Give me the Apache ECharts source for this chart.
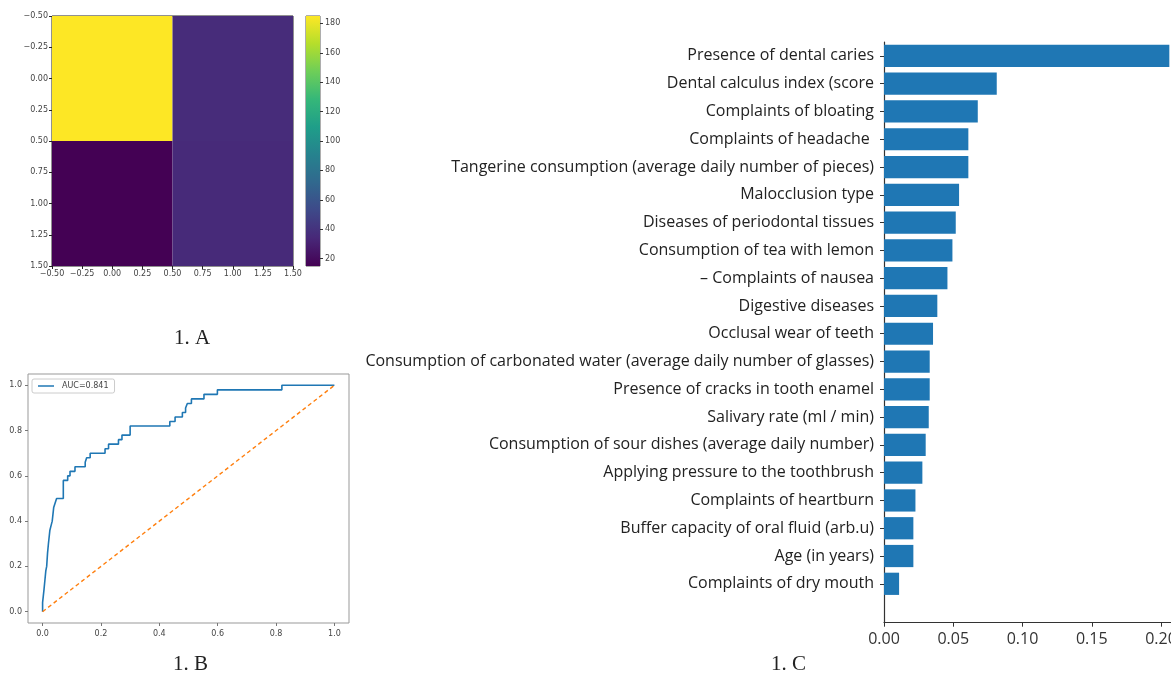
<!DOCTYPE html>
<html>
<head>
<meta charset="utf-8">
<script src="https://cdn.jsdelivr.net/npm/echarts@6/dist/echarts.min.js"></script>
<style>html,body{margin:0;padding:0;background:#fff;}#c{width:1171px;height:679px;}</style>
</head>
<body>
<div id="c"></div>
<script>
// ---------- Panel 1.A : confusion-matrix image ----------
const cmCells = [ // [col, row, value]
  [0, 0, 185], [1, 0, 36],
  [0, 1, 15],  [1, 1, 35]
];
const cbTicks = [20, 40, 60, 80, 100, 120, 140, 160, 180];
const viridis = ['#440154','#482878','#3e4989','#31688e','#26828e','#1f9e89','#35b779','#6ece58','#b5de2b','#fde725'];

// ---------- Panel 1.B : ROC curve ----------
const rocFpr = [0,0,0.005,0.005,0.008,0.008,0.011,0.011,0.014,0.014,0.017,0.017,0.02,0.02,0.025,0.025,0.029,0.029,0.033,0.033,0.038,0.038,0.043,0.043,0.048,0.048,0.071,0.071,0.086,0.086,0.094,0.094,0.111,0.111,0.146,0.146,0.151,0.151,0.163,0.163,0.214,0.214,0.226,0.226,0.26,0.26,0.272,0.272,0.30,0.30,0.436,0.436,0.454,0.454,0.479,0.479,0.49,0.49,0.496,0.496,0.51,0.51,0.553,0.553,0.599,0.599,0.82,0.82,1.0];
const rocTpr = [0,0.04,0.04,0.10,0.10,0.14,0.14,0.18,0.18,0.20,0.20,0.26,0.26,0.30,0.30,0.36,0.36,0.38,0.38,0.40,0.40,0.46,0.46,0.48,0.48,0.50,0.50,0.58,0.58,0.60,0.60,0.62,0.62,0.64,0.64,0.66,0.66,0.68,0.68,0.70,0.70,0.72,0.72,0.74,0.74,0.76,0.76,0.78,0.78,0.82,0.82,0.84,0.84,0.86,0.86,0.88,0.88,0.90,0.90,0.92,0.92,0.94,0.94,0.96,0.96,0.98,0.98,1.0,1.0];
const chanceFpr = [0, 1];
const chanceTpr = [0, 1];
const rocTicks = [0, 0.2, 0.4, 0.6, 0.8, 1.0];
const aucLabel = 'AUC=0.841';

// ---------- Panel 1.C : feature importances ----------
const features = [
  'Presence of dental caries',
  'Dental calculus index (score',
  'Complaints of bloating',
  'Complaints of headache ',
  'Tangerine consumption (average daily number of pieces)',
  'Malocclusion type',
  'Diseases of periodontal tissues',
  'Consumption of tea with lemon',
  '– Complaints of nausea',
  'Digestive diseases',
  'Occlusal wear of teeth',
  'Consumption of carbonated water (average daily number of glasses)',
  'Presence of cracks in tooth enamel',
  'Salivary rate (ml / min)',
  'Consumption of sour dishes (average daily number)',
  'Applying pressure to the toothbrush',
  'Complaints of heartburn',
  'Buffer capacity of oral fluid (arb.u)',
  'Age (in years)',
  'Complaints of dry mouth'
];
const importances = [0.206,0.0814,0.0677,0.0609,0.0609,0.0542,0.0518,0.0494,0.0458,0.0385,0.0354,0.0330,0.0330,0.0323,0.0301,0.0277,0.0227,0.0212,0.0212,0.0109];
const impTicks = [0, 0.05, 0.10, 0.15, 0.20];
const captions = ['1. A', '1. B', '1. C'];

// ---------- build ----------
const vMin = Math.min(...cmCells.map(c => c[2]));
const vMax = Math.max(...cmCells.map(c => c[2]));
const minus = s => s.replace('-', '\u2212');
const smallLbl = {fontFamily: 'DejaVu Sans', fontSize: 8, color: '#444'};
const featIdx = features.map((_, i) => i);
const blue = '#1f77b4';

const chart = echarts.init(document.getElementById('c'), null, {renderer: 'canvas'});
chart.setOption({
  backgroundColor: '#fff',
  animation: false,
  grid: [
    {left: 52, top: 16, width: 241, height: 250, show: true, borderColor: '#222', borderWidth: 1, backgroundColor: 'transparent', outerBoundsMode: 'none', containLabel: false},
    {left: 306, top: 16, width: 14, height: 250, show: true, borderColor: '#333', borderWidth: 0.8, backgroundColor: 'transparent', outerBoundsMode: 'none', containLabel: false},
    {left: 28, top: 374, width: 321, height: 249, show: true, borderColor: '#999', borderWidth: 1, backgroundColor: 'transparent', outerBoundsMode: 'none', containLabel: false},
    {left: 884, top: 42, width: 287, height: 580.7, show: false, outerBoundsMode: 'none', containLabel: false}
  ],
  xAxis: [
    {gridIndex: 0, type: 'value', min: -0.5, max: 1.5, interval: 0.25, position: 'bottom',
     axisLine: {show: false, onZero: false}, splitLine: {show: false},
     axisTick: {show: true, length: 3, lineStyle: {color: '#222'}},
     axisLabel: {...smallLbl, margin: 4, formatter: v => minus(v.toFixed(2))}},
    {gridIndex: 1, type: 'value', min: 0, max: 1, show: false},
    {gridIndex: 2, type: 'value', min: -0.05, max: 1.05, position: 'bottom',
     axisLine: {show: false, onZero: false}, splitLine: {show: false},
     axisTick: {show: true, length: 3, customValues: rocTicks, lineStyle: {color: '#777'}},
     axisLabel: {...smallLbl, margin: 7, customValues: rocTicks, formatter: v => v.toFixed(1)}},
    {gridIndex: 3, type: 'value', min: 0, max: 0.2072, interval: 0.05, position: 'bottom',
     axisLine: {show: true, onZero: false, lineStyle: {color: '#333', width: 1.2}},
     splitLine: {show: false},
     axisTick: {show: true, length: 4, customValues: impTicks, lineStyle: {color: '#333'}},
     axisLabel: {fontFamily: 'Open Sans', fontSize: 16, color: '#333', margin: 9, customValues: impTicks, formatter: v => v.toFixed(2)}}
  ],
  yAxis: [
    {gridIndex: 0, type: 'value', inverse: true, min: -0.5, max: 1.5, interval: 0.25, position: 'left',
     axisLine: {show: false, onZero: false}, splitLine: {show: false},
     axisTick: {show: true, length: 3, lineStyle: {color: '#222'}},
     axisLabel: {...smallLbl, margin: 4, formatter: v => minus(v.toFixed(2))}},
    {gridIndex: 1, type: 'value', position: 'right', min: vMin, max: vMax,
     axisLine: {show: false, onZero: false}, splitLine: {show: false},
     axisTick: {show: true, length: 3, customValues: cbTicks, lineStyle: {color: '#333'}},
     axisLabel: {...smallLbl, margin: 5, customValues: cbTicks}},
    {gridIndex: 2, type: 'value', min: -0.05, max: 1.05, position: 'left',
     axisLine: {show: false, onZero: false}, splitLine: {show: false},
     axisTick: {show: true, length: 3, customValues: rocTicks, lineStyle: {color: '#777'}},
     axisLabel: {...smallLbl, margin: 6, customValues: rocTicks, formatter: v => v.toFixed(1)}},
    {gridIndex: 3, type: 'value', inverse: true, min: -0.5, max: 20.4, position: 'left',
     axisLine: {show: true, onZero: false, lineStyle: {color: '#333', width: 1.2}},
     splitLine: {show: false},
     axisTick: {show: true, length: 4, customValues: featIdx, lineStyle: {color: '#333'}},
     axisLabel: {fontFamily: 'Open Sans', fontSize: 16, color: '#222', margin: 10, customValues: featIdx,
                 formatter: v => features[Math.round(v)] || ''}}
  ],
  visualMap: [{
    type: 'continuous', show: false, seriesIndex: 0, dimension: 2,
    min: vMin, max: vMax, inRange: {color: viridis}
  }],
  legend: {
    data: [{name: aucLabel, icon: 'rect'}], left: 32, top: 379, padding: [3, 6], itemGap: 4,
    itemWidth: 16, itemHeight: 1.5, borderColor: '#ccc', borderWidth: 1, borderRadius: 2,
    textStyle: {fontFamily: 'DejaVu Sans', fontSize: 8, color: '#444', padding: [0, 0, 0, 3]}
  },
  series: [
    {type: 'custom', xAxisIndex: 0, yAxisIndex: 0, data: cmCells,
     renderItem: (params, api) => {
       const x = api.value(0), y = api.value(1);
       const p0 = api.coord([x - 0.5, y - 0.5]);
       const p1 = api.coord([x + 0.5, y + 0.5]);
       return {type: 'rect', shape: {x: Math.min(p0[0], p1[0]), y: Math.min(p0[1], p1[1]),
               width: Math.abs(p1[0] - p0[0]), height: Math.abs(p1[1] - p0[1])},
               style: {fill: api.visual('color')}};
     }},
    {type: 'custom', xAxisIndex: 1, yAxisIndex: 1, data: [[0, vMin, vMax]],
     renderItem: (params, api) => {
       const pTop = api.coord([0, api.value(2)]);
       const pBot = api.coord([1, api.value(1)]);
       const stops = viridis.map((c, i) => ({offset: 1 - i / (viridis.length - 1), color: c}));
       stops.reverse();
       return {type: 'rect', shape: {x: pTop[0], y: pTop[1], width: pBot[0] - pTop[0], height: pBot[1] - pTop[1]},
               style: {fill: new echarts.graphic.LinearGradient(0, 0, 0, 1, stops)}};
     }},
    {type: 'line', name: aucLabel, xAxisIndex: 2, yAxisIndex: 2,
     data: rocFpr.map((f, i) => [f, rocTpr[i]]),
     symbol: 'none', lineStyle: {color: blue, width: 1.6}, itemStyle: {color: blue}},
    {type: 'line', name: 'chance', xAxisIndex: 2, yAxisIndex: 2,
     data: chanceFpr.map((f, i) => [f, chanceTpr[i]]),
     symbol: 'none', lineStyle: {color: '#ff7f0e', width: 1.4, type: [4, 3]}, itemStyle: {color: '#ff7f0e'}},
    {type: 'custom', xAxisIndex: 3, yAxisIndex: 3,
     data: importances.map((v, i) => [v, i]),
     renderItem: (params, api) => {
       const v = api.value(0), i = api.value(1);
       const a = api.coord([0, i - 0.4]);
       const b = api.coord([v, i + 0.4]);
       return {type: 'rect', shape: {x: a[0], y: a[1], width: b[0] - a[0], height: b[1] - a[1]},
               style: {fill: blue}};
     }}
  ],
  graphic: [
    {type: 'text', left: 174, top: 328, style: {text: captions[0], font: '21px "Liberation Serif"', fill: '#222'}},
    {type: 'text', left: 173, top: 654, style: {text: captions[1], font: '21px "Liberation Serif"', fill: '#222'}},
    {type: 'text', left: 771, top: 654, style: {text: captions[2], font: '21px "Liberation Serif"', fill: '#222'}}
  ]
});
</script>
</body>
</html>
